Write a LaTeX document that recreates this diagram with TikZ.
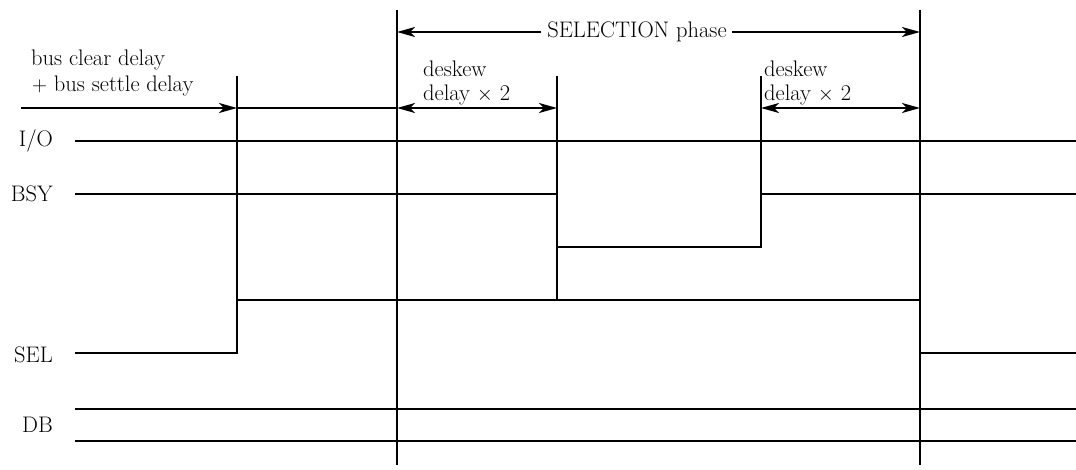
\documentclass[tikz,border=0pt]{standalone}
\usepackage{tikz}
\usetikzlibrary{arrows.meta,positioning}
\tikzset{sig/.style={line width=1.7pt, line join=miter},
    edge/.style={line width=1.7pt},
    span/.style={line width=1.7pt, {Stealth[length=18pt,width=10pt,inset=5pt]}-{Stealth[length=18pt,width=10pt,inset=5pt]}},
    rspan/.style={line width=1.7pt, -{Stealth[length=18pt,width=10pt,inset=5pt]}},
    lbl/.style={font=\fontsize{22.5}{24}\selectfont, inner sep=0pt}}

\begin{document}
\begin{tikzpicture}[x=1pt,y=-1pt]
        \useasboundingbox (0,0) rectangle (1076,470);
        % time marks
        \draw[edge] (237,76) -- (237,353);
        \draw[edge] (397,10) -- (397,465);
        \draw[edge] (557,76) -- (557,300);
        \draw[edge] (761,76) -- (761,247);
        \draw[edge] (920,10) -- (920,465);
        % delays
        \node[lbl] (sel) at (637,32) {SELECTION phase};
        \draw[rspan] ([xshift=-6pt]sel.west) -- (397,32);
        \draw[rspan] ([xshift=5pt]sel.east) -- (920,32);
        \node[lbl, anchor=base west] (busclr) at (31,66) {bus clear delay};
        \node[lbl, anchor=base west] (busset) at (32,92) {$+$ bus settle delay};
        \draw[rspan] (21,108) -- (237,108);
        \draw[edge] (237,108) -- (397,108);
        \draw[span] (397,108) -- (557,108);
        \draw[span] (761,108) -- (920,108);
        \node[lbl, anchor=base west] (dskA) at (423,77) {deskew};
        \node[lbl, anchor=base west] (dlyA) at (423,101) {delay $\times$ 2};
        \node[lbl, anchor=base west] (dskB) at (764,77) {deskew};
        \node[lbl, anchor=base west] (dlyB) at (764,101) {delay $\times$ 2};
        % signals
        \node[lbl, anchor=east] (io) at (53,141) {I/O};
        \node[lbl, anchor=east] (bsy) at (53,194) {BSY};
        \node[lbl, anchor=east] (sl) at (53,355) {SEL};
        \node[lbl, anchor=east] (db) at (53,425) {DB};
        \draw[sig] (75,141) -- (1076,141);
        \draw[sig] (75,194) -- (557,194) -- (557,247) -- (761,247) -- (761,194) -- (1076,194);
        \draw[sig] (75,353) -- (237,353) -- (237,300) -- (920,300) -- (920,353) -- (1076,353);
        \draw[sig] (75,409) -- (1076,409);
        \draw[sig] (75,441) -- (1076,441);
    \end{tikzpicture}
\end{document}
